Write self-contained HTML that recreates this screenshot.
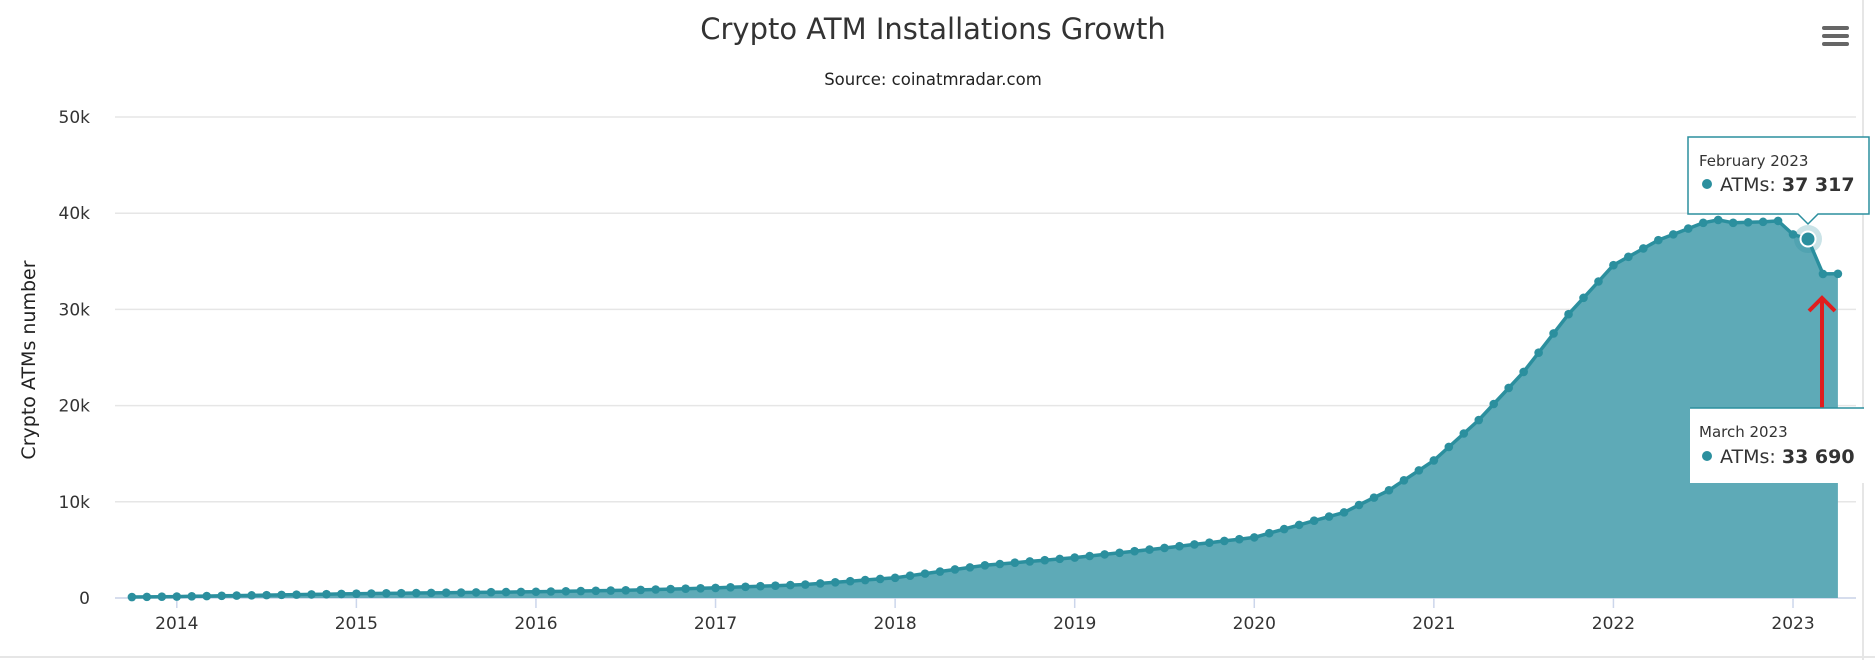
<!DOCTYPE html>
<html><head><meta charset="utf-8"><style>
html,body{margin:0;padding:0;background:#fff;width:1875px;height:660px;overflow:hidden}
svg{display:block;font-family:"DejaVu Sans","Liberation Sans",sans-serif}
</style></head><body>
<svg id="s" width="1875" height="660" viewBox="0 0 1875 660" xmlns="http://www.w3.org/2000/svg">
<rect width="1875" height="660" fill="#fff"/>
<line x1="1863" y1="0" x2="1863" y2="660" stroke="#e6e6e6" stroke-width="2"/>
<line x1="0" y1="657" x2="1875" y2="657" stroke="#e6e6e6" stroke-width="2"/>
<text x="933" y="39" text-anchor="middle" font-size="29" fill="#333">Crypto ATM Installations Growth</text>
<text x="933" y="85" text-anchor="middle" font-size="16.5" fill="#222">Source: coinatmradar.com</text>
<g fill="#666"><rect x="1822" y="26" width="27" height="4" rx="2"/><rect x="1822" y="34" width="27" height="4" rx="2"/><rect x="1822" y="42" width="27" height="4" rx="2"/></g>
<g id="grid" stroke="#e6e6e6" stroke-width="1.5"></g>
<g id="ylab" font-size="17" fill="#333" text-anchor="end"></g>
<text transform="translate(35,360) rotate(-90)" text-anchor="middle" font-size="19" fill="#222">Crypto ATMs number</text>
<g id="xlab" font-size="17" fill="#333" text-anchor="middle"></g>
<path id="area" fill="#5eaab7"/>
<path id="ln" fill="none" stroke="#2b8f9e" stroke-width="3.5" stroke-linejoin="round"/>
<g id="dots" fill="#2b8f9e"></g>
<circle id="hc" cx="1808" cy="240" r="14" fill="#2b8f9e" fill-opacity="0.25"/>
<circle id="hd" cx="1808" cy="240" r="7.5" fill="#2b8f9e" stroke="#fff" stroke-width="2"/>
<line x1="1822" y1="408" x2="1822" y2="298" stroke="#e01e1e" stroke-width="4"/>
<polyline points="1809,311 1822,298 1835,311" fill="none" stroke="#e01e1e" stroke-width="4"/>
<path d="M1688,137 H1869 V214 H1818 L1808,224 L1798,214 H1688 Z" fill="#fff" fill-opacity="0.96" stroke="#2b8f9e" stroke-width="1.5"/>
<text x="1699" y="166" font-size="15" fill="#333">February 2023</text>
<circle cx="1707" cy="184" r="5" fill="#2b8f9e"/>
<text x="1720" y="191" font-size="19" fill="#333">ATMs: <tspan font-weight="bold">37 317</tspan></text>
<rect x="1690" y="408" width="176" height="75" fill="#fff"/>
<line x1="1690" y1="408" x2="1864" y2="408" stroke="#2b8f9e" stroke-width="1.5"/>
<text x="1699" y="437" font-size="15" fill="#333">March 2023</text>
<circle cx="1707" cy="456" r="5" fill="#2b8f9e"/>
<text x="1720" y="463" font-size="19" fill="#333">ATMs: <tspan font-weight="bold">33 690</tspan></text>
</svg>
<script>
var NS="http://www.w3.org/2000/svg";
function el(p,t,a,txt){var e=document.createElementNS(NS,t);for(var k in a)e.setAttribute(k,a[k]);if(txt!=null)e.textContent=txt;var par=document.getElementById(p);par.appendChild(e);return e;}
var y0=598,per=96.2/10000;
function Y(v){return y0-v*per;}
var labs=["0","10k","20k","30k","40k","50k"];
for(var i=0;i<=5;i++){var y=y0-i*96.2;el("grid","line",{x1:115,x2:1856,y1:y,y2:y});el("ylab","text",{x:90,y:y+6},labs[i]);}
var x2014=176.8,mo=14.965;
function X(m){return x2014+m*mo;}
for(var yr=2014;yr<=2023;yr++){var x=X((yr-2014)*12);el("grid","line",{x1:x,x2:x,y1:y0,y2:y0+10,stroke:"#ccd6eb"});el("xlab","text",{x:x,y:629},yr);}
el("grid","line",{x1:115,x2:1856,y1:y0,y2:y0,stroke:"#ccd6eb"});
var A=[[-3,100],[0,150],[6,300],[12,450],[18,550],[24,650],[30,800],[36,1050],[42,1400],[48,2100],[54,3400],[60,4200],[66,5200],[72,6300],[75,7600],[78,8900],[81,11200],[84,14300],[87,18500],[90,23500],[93,29500],[96,34600],[99,37200],[102,39000],[103,39300],[104,39000],[106,39100],[107,39200],[108,37800],[109,37317],[110,33690],[111,33700]];
function val(m){for(var i=0;i<A.length-1;i++){if(m>=A[i][0]&&m<=A[i+1][0]){var t=(m-A[i][0])/(A[i+1][0]-A[i][0]);return A[i][1]+t*(A[i+1][1]-A[i][1]);}}return 0;}
var pts=[];
for(var m=-3;m<=111;m++){pts.push([X(m),Y(val(m))]);}
var d="M"+pts.map(function(p){return p[0].toFixed(1)+","+p[1].toFixed(1)}).join(" L");
document.getElementById("ln").setAttribute("d",d);
document.getElementById("area").setAttribute("d",d+" L"+pts[pts.length-1][0]+","+y0+" L"+pts[0][0]+","+y0+" Z");
pts.forEach(function(p){el("dots","circle",{cx:p[0],cy:p[1],r:4.3});});
var fy=Y(37317);document.getElementById("hc").setAttribute("cy",fy);document.getElementById("hd").setAttribute("cy",fy);
</script>
</body></html>
